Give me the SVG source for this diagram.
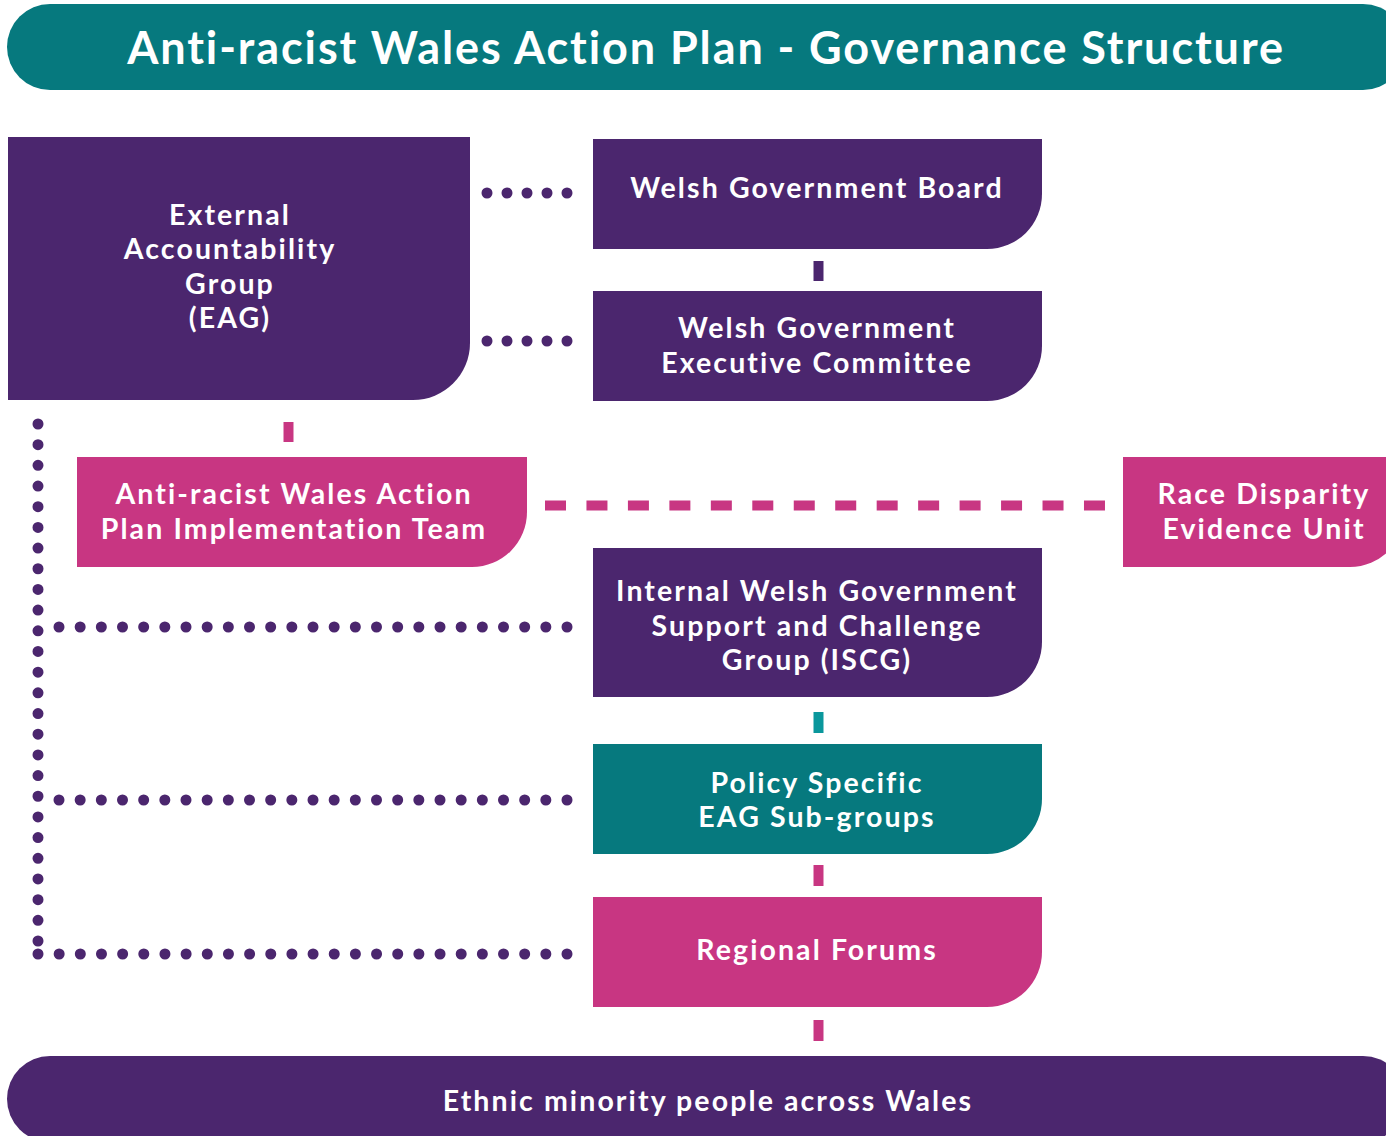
<svg xmlns="http://www.w3.org/2000/svg" width="1386" height="1136" viewBox="0 0 1386 1136">
<style>
.purple{fill:#4B266E}
.teal{fill:#06797E}
.pink{fill:#C83682}
.t{font-family:Lato,"Noto Sans","Liberation Sans",sans-serif;font-weight:700;fill:#fff;text-anchor:middle;font-size:28.5px;letter-spacing:2.1px}
.title{font-size:45px;letter-spacing:1.9px}
.dot{stroke:#4B266E;stroke-width:11;stroke-linecap:round;fill:none}
.bar{stroke-width:10;fill:none}
</style>
<rect width="1386" height="1136" fill="#fff"/>
<g id="title">
<rect class="teal" x="7" y="4" width="1399" height="86" rx="43"/>
<text class="t title" x="706" y="64">Anti-racist Wales Action Plan - Governance Structure</text>
</g>
<g id="connectors">
<line class="dot" x1="487" y1="193" x2="568" y2="193" stroke-dasharray="0 20"/>
<line class="dot" x1="487" y1="341" x2="568" y2="341" stroke-dasharray="0 20"/>
<line class="dot" x1="38" y1="424" x2="38" y2="942" stroke-dasharray="0 20.68"/>
<line class="dot" x1="38" y1="954" x2="568" y2="954" stroke-dasharray="0 21.16"/>
<line class="dot" x1="59" y1="627" x2="568" y2="627" stroke-dasharray="0 21.167"/>
<line class="dot" x1="59" y1="800" x2="568" y2="800" stroke-dasharray="0 21.167"/>
<line class="bar" stroke="#C83682" x1="545" y1="505.5" x2="1106" y2="505.5" stroke-dasharray="21 20.46"/>
<line class="bar" stroke="#4B266E" x1="818.5" y1="261" x2="818.5" y2="281"/>
<line class="bar" stroke="#C83682" x1="288.5" y1="422" x2="288.5" y2="442"/>
<line class="bar" stroke="#0A979C" x1="818.5" y1="712" x2="818.5" y2="733"/>
<line class="bar" stroke="#C83682" x1="818.5" y1="865" x2="818.5" y2="886"/>
<line class="bar" stroke="#C83682" x1="818.5" y1="1020" x2="818.5" y2="1041"/>
</g>
<g id="eag">
<path class="purple" d="M8 137H470V343A57 57 0 0 1 413 400H8Z"/>
<text class="t"><tspan x="230" y="225">External</tspan><tspan x="230" y="259">Accountability</tspan><tspan x="230" y="294">Group</tspan><tspan x="230" y="328">(EAG)</tspan></text>
</g>
<g id="wgb">
<path class="purple" d="M593 139H1042V194A55 55 0 0 1 987 249H593Z"/>
<text class="t" x="817" y="198">Welsh Government Board</text>
</g>
<g id="wgec">
<path class="purple" d="M593 291H1042V346A55 55 0 0 1 987 401H593Z"/>
<text class="t"><tspan x="817" y="338">Welsh Government</tspan><tspan x="817" y="373">Executive Committee</tspan></text>
</g>
<g id="impl">
<path class="pink" d="M77 457H527V512A55 55 0 0 1 472 567H77Z"/>
<text class="t"><tspan x="294" y="504">Anti-racist Wales Action</tspan><tspan x="294" y="539">Plan Implementation Team</tspan></text>
</g>
<g id="rdeu">
<path class="pink" d="M1123 457H1405V512A55 55 0 0 1 1350 567H1123Z"/>
<text class="t"><tspan x="1264" y="504">Race Disparity</tspan><tspan x="1264" y="539">Evidence Unit</tspan></text>
</g>
<g id="iscg">
<path class="purple" d="M593 548H1042V642A55 55 0 0 1 987 697H593Z"/>
<text class="t"><tspan x="817" y="601">Internal Welsh Government</tspan><tspan x="817" y="636">Support and Challenge</tspan><tspan x="817" y="670">Group (ISCG)</tspan></text>
</g>
<g id="subgroups">
<path class="teal" d="M593 744H1042V799A55 55 0 0 1 987 854H593Z"/>
<text class="t"><tspan x="817" y="793">Policy Specific</tspan><tspan x="817" y="827">EAG Sub-groups</tspan></text>
</g>
<g id="forums">
<path class="pink" d="M593 897H1042V952A55 55 0 0 1 987 1007H593Z"/>
<text class="t" x="817" y="960">Regional Forums</text>
</g>
<g id="people">
<rect class="purple" x="7" y="1056" width="1399" height="86" rx="43"/>
<text class="t" x="708" y="1111">Ethnic minority people across Wales</text>
</g>
</svg>
